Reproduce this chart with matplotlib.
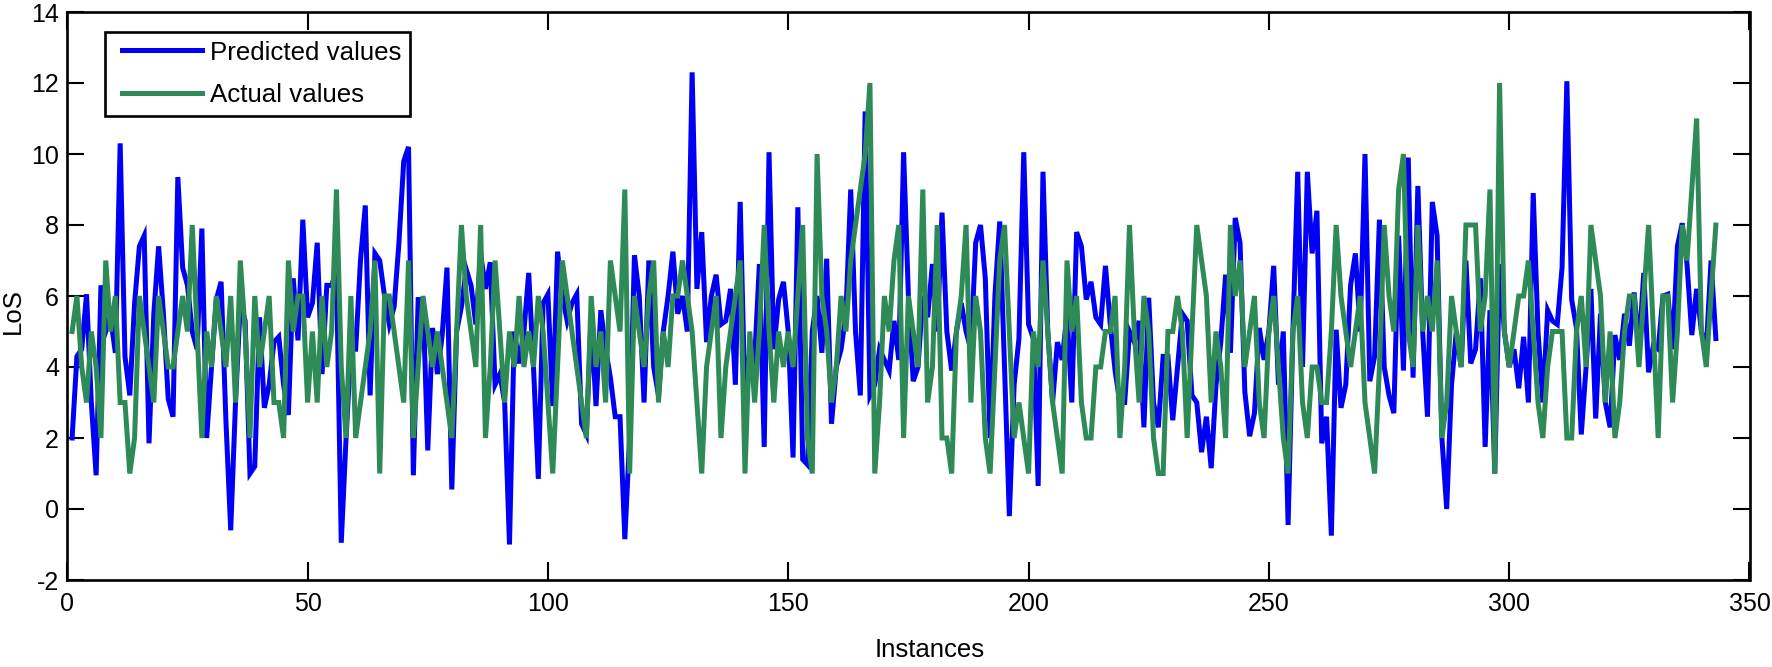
import numpy as np
import matplotlib
matplotlib.use("Agg")
import matplotlib.pyplot as plt
from matplotlib.legend_handler import HandlerLine2D
from matplotlib.lines import Line2D

plt.rcParams['font.family'] = ['Liberation Sans', 'DejaVu Sans']

predicted = [
 2,4.3,4.5,6.05,3,0.95,6.3,5,5.4,4.4,
 10.3,4.3,3.2,5.8,7.4,7.7,1.85,5.5,7.4,5.5,
 3.1,2.6,9.35,6.8,6.3,5,4.5,7.9,2,4,
 5.9,6.4,2.5,-0.6,3,5.8,5.3,1,1.2,5.4,
 2.85,3.5,4.7,4.85,3.5,2.65,6.5,4.75,8.15,5.4,
 5.8,7.5,3.8,6.3,6.3,6.7,-0.95,2,4.5,4.5,
 7,8.55,3.2,7.2,7,6,5.2,5.7,7.5,9.8,
 10.2,0.95,5.9,5.9,1.65,5.1,3.8,4.9,6.8,0.55,
 5,5.7,6.75,6.3,5.2,7.2,6.2,6.95,3.5,3.8,
 3,-1,5,4.1,5,6.65,4,0.85,5.8,6.05,
 2.9,7.25,6,5.3,5.8,6.05,2.4,2.1,5.4,2.9,
 5.6,4.5,3.7,2.6,2.6,-0.85,2,7.15,6,3,
 7,4,3.2,5,6,7.25,5.5,6,5,12.3,
 6.2,7.8,4.7,6,6.6,5.2,5.3,6.2,3.5,8.65,
 3,4.5,4.2,6.9,1.75,10.05,4.5,5.9,6.4,5,
 1.45,8.5,1.4,1.25,5,6,4.4,7.05,2.4,4,
 4.5,5.5,9,5,3.2,11.2,3.2,3.5,4.5,4.2,
 3.9,5.3,4.2,10.05,6,3.6,4,6,5.4,6.9,
 5,8.35,5,3.9,5,5.8,5,4.5,7.5,8,
 6.5,2,6,8.1,4,-0.2,3.5,4.8,10.05,5.2,
 4.8,0.65,9.5,5,3,4.7,4.2,5.5,3,7.8,
 7.4,5.9,6.4,5.4,5.2,6.85,5.2,3.9,3,3,
 5,4.7,5.3,2.3,5.95,3,2.3,4.3,4.3,2.5,
 4,5.5,5.3,3.2,3,1.6,2.6,1.15,3.5,4.7,
 6.6,4.4,8.2,7.5,3.3,2.05,2.7,5.1,4.2,5,
 6.85,3.5,5,-0.45,5,9.5,4,9.5,7.2,8.4,
 1.85,2.6,-0.75,5.05,2.85,3.5,6.3,7.2,5,10,
 3.6,4.3,8.15,4,3.2,2.7,7.7,3.9,9.9,3.7,
 9.1,5,2.6,8.65,7.7,2,0,3.5,5,4,
 7,4.1,4.5,6.5,1.75,5.6,1,6.9,5,4,
 4.5,3.4,4.85,3,8.9,5,3,5.6,5.3,5.2,
 6.8,12.05,5.9,5.1,2.1,4,6.2,2.55,5.5,3,
 2.3,4.9,4.2,5.5,4.6,6.1,4.5,6.65,3.85,4.6,
 4.5,6,6.05,4.5,7.4,8.05,6.9,4.9,6.2,5,
 4.5,7,4.8]

actual = [
 5,6,4,3,5,4,2,7,5,6,
 3,3,1,2,6,5,4,3,6,5,
 4,4,5,6,5,8,5,2,5,4,
 6,5,4,6,3,7,5,2,6,4,
 5,6,3,3,2,7,5,6,6,3,
 5,3,6,4,5,9,4,2,6,2,
 3,4,5,7,1,6,6,5,4,3,
 7,2,4,6,5,4,5,4,3,2,
 5,8,6,5,4,8,2,4,7,5,
 3,5,4,6,4,5,4,6,5,3,
 1,4,7,6,5,4,3,2,6,4,
 5,3,7,6,5,9,1,6,5,4,
 6,7,3,5,4,6,6,7,6,5,
 3,1,4,5,6,2,4,5,6,7,
 1,5,3,5,8,5,3,5,4,5,
 4,6,8,2,1,10,6,5,3,4,
 6,5,7,8,9,10,12,1,3,6,
 5,7,8,2,6,5,4,9,3,4,
 8,2,2,1,5,6,8,3,6,5,
 2,1,4,7,8,5,2,3,2,1,
 5,4,7,5,3,2,1,7,5,6,
 3,2,2,4,4,5,5,6,2,4,
 8,5,3,6,5,2,1,1,5,5,
 6,5,2,5,8,7,6,3,5,4,
 2,8,6,7,4,5,6,3,2,5,
 6,4,2,1,5,6,3,2,4,4,
 3,3,5,8,6,5,4,5,6,3,
 2,1,4,8,6,5,9,10,5,4,
 8,5,6,5,7,2,3,6,5,4,
 8,8,8,5,6,9,1,12,5,4,
 5,6,6,7,5,3,2,4,5,5,
 5,2,2,5,6,4,8,7,6,3,
 5,2,3,5,6,6,4,6,8,5,
 2,6,6,3,5,8,7,9,11,5,
 4,6,8]

xticks = [0, 50, 100, 150, 200, 250, 300, 350]
yticks = [-2, 0, 2, 4, 6, 8, 10, 12, 14]
instances = np.arange(1, len(predicted) + 1)

W, H = 1772, 667
fig = plt.figure(figsize=(W / 100, H / 100), dpi=100)
L, R, T, B = 67.3, 1749.5, 12, 580
ax = fig.add_axes([L / W, 1 - B / H, (R - L) / W, (B - T) / H])

ax.plot(instances, predicted, color='#0000F5', lw=3.6, solid_joinstyle='miter',
        label='Predicted values')
ax.plot(instances, actual, color='#2E8B57', lw=3.6, solid_joinstyle='miter',
        label='Actual values')

ax.set_xlim(0, 350)
ax.set_ylim(-2, 14)
ax.set_xticks(xticks)
ax.set_yticks(yticks)
ax.set_yticklabels([str(v) for v in yticks])
ax.tick_params(axis='both', direction='in', top=True, right=True, width=1.5,
               labelsize=18, color='black')
ax.tick_params(axis='x', length=13, pad=8.5)
ax.tick_params(axis='y', length=12, pad=6)
for s in ax.spines.values():
    s.set_linewidth(1.9)

ax.set_xlabel('Instances', fontsize=18.5)
ax.xaxis.set_label_coords((930 - L) / (R - L), 1 - (650 - T) / (B - T), ax.transAxes)
ax.xaxis.label.set_va('center')
ax.set_ylabel('LoS', fontsize=18.5)
ax.yaxis.set_label_coords((13 - L) / (R - L), 1 - (311 - T) / (B - T), ax.transAxes)
ax.yaxis.label.set_va('center')

leg = ax.legend(loc='upper left',
                bbox_to_anchor=((105 - L) / (R - L), 1 - (32 - T) / (B - T)),
                fontsize=18.6, frameon=True, fancybox=False, framealpha=1,
                edgecolor='black', borderaxespad=0, handlelength=3.41,
                handletextpad=0.34, labelspacing=0.72, borderpad=0.33,
                handler_map={Line2D: HandlerLine2D(xpad=0.34)})
leg.get_frame().set_linewidth(1.9)

fig.savefig('out.png', dpi=100)
